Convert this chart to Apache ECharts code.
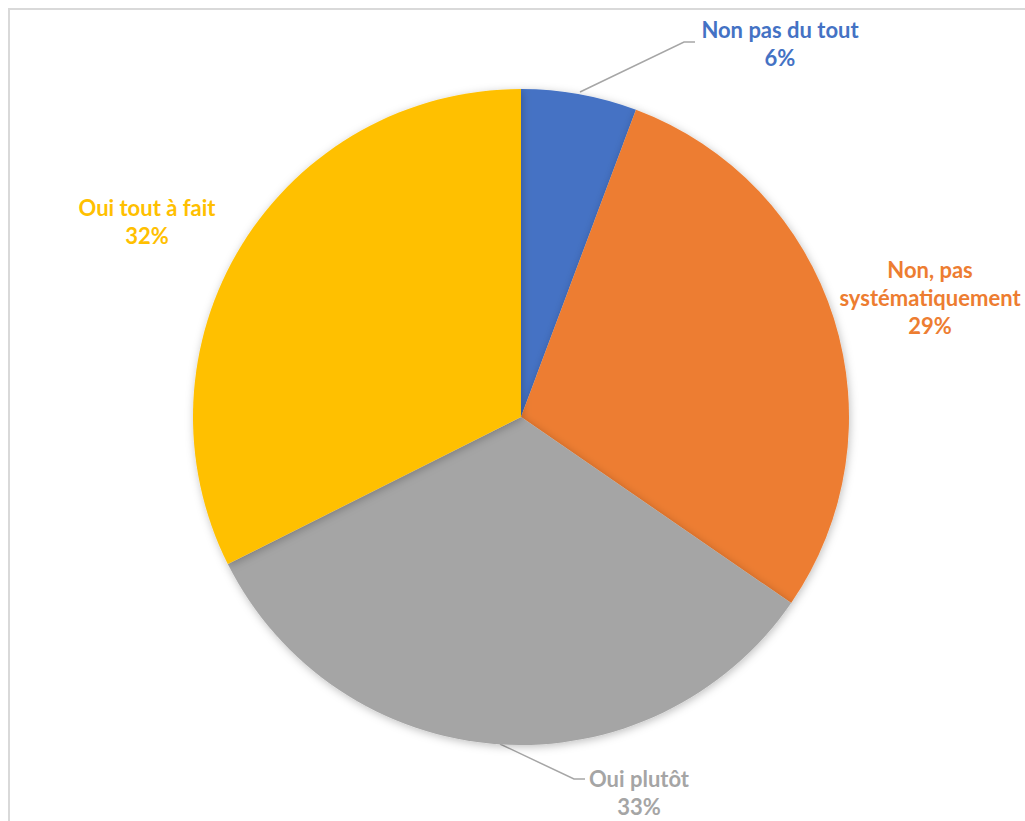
<!DOCTYPE html>
<html>
<head>
<meta charset="utf-8">
<script src="https://cdn.jsdelivr.net/npm/echarts@6/dist/echarts.min.js"></script>
<style>
html,body{margin:0;padding:0;background:#fff;}
#chart{width:1025px;height:821px;}
</style>
</head>
<body>
<div id="chart"></div>
<script>
const categories = ['Non pas du tout', 'Non, pas\nsystématiquement', 'Oui plutôt', 'Oui tout à fait'];
const values = [5.7, 28.9, 33.0, 32.4];
const colors = ['#4472C4', '#ED7D31', '#A5A5A5', '#FFC000'];
const showLeader = [true, false, true, false];
const labelCenters = [[780, 43], [930, 297], [639, 792], [147, 221]];
const leaderPoints = [
  [[580, 92], [684, 42], [695, 42]],
  null,
  [[500, 744], [574, 779], [585, 779]],
  null
];

const chart = echarts.init(document.getElementById('chart'), null, {renderer: 'svg'});
chart.setOption({
  backgroundColor: '#fff',
  animation: false,
  graphic: [{
    type: 'rect',
    shape: {x: 9, y: 9, width: 1100, height: 900},
    style: {fill: 'none', stroke: '#d9d9d9', lineWidth: 2},
    z: 100
  }],
  series: [{
    type: 'pie',
    center: [521, 417],
    radius: 328,
    startAngle: 90,
    clockwise: true,
    data: categories.map((c, i) => ({
      name: c,
      value: values[i],
      itemStyle: {color: colors[i]},
      label: {color: colors[i]},
      labelLine: {show: showLeader[i]}
    })),
    itemStyle: {
      shadowBlur: 8,
      shadowColor: 'rgba(0,0,0,0.25)',
      shadowOffsetX: 1,
      shadowOffsetY: 2
    },
    label: {
      show: true,
      position: 'outside',
      alignTo: 'none',
      overflow: 'none',
      fontFamily: 'Lato',
      fontWeight: 'bold',
      fontSize: 22,
      lineHeight: 28,
      align: 'center',
      formatter: p => p.name + '\n' + Math.round(p.percent) + '%'
    },
    labelLine: {
      lineStyle: {color: '#a6a6a6', width: 1.5},
      smooth: false
    },
    labelLayout: function (params) {
      const i = params.dataIndex;
      const res = {
        x: labelCenters[i][0],
        y: labelCenters[i][1],
        align: 'center',
        verticalAlign: 'middle'
      };
      if (leaderPoints[i]) res.labelLinePoints = leaderPoints[i];
      return res;
    }
  }]
});
</script>
</body>
</html>
